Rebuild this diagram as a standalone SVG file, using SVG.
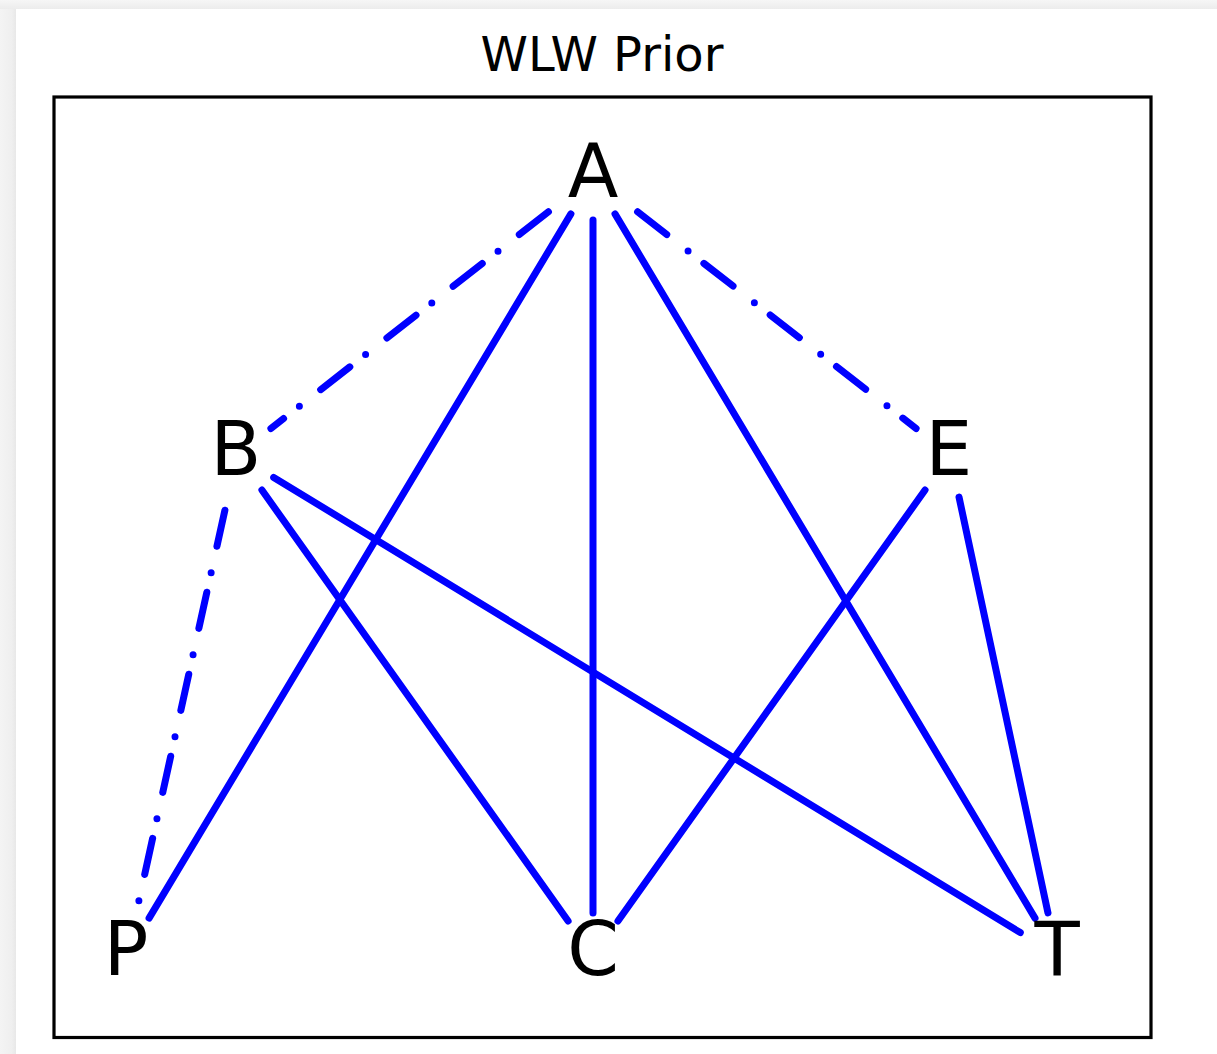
<svg xmlns="http://www.w3.org/2000/svg" width="1217" height="1054" viewBox="0 0 1217 1054">
  <defs>
    <linearGradient id="shL" x1="0" y1="0" x2="1" y2="0">
      <stop offset="0" stop-color="#f4f4f4"/>
      <stop offset="0.7" stop-color="#efefef"/>
      <stop offset="1" stop-color="#e6e6e6"/>
    </linearGradient>
    <linearGradient id="shT" x1="0" y1="0" x2="0" y2="1">
      <stop offset="0" stop-color="#f6f6f6"/>
      <stop offset="1" stop-color="#ececec"/>
    </linearGradient>
  </defs>
  <style>
    .frame { fill: none; stroke: #000000; stroke-width: 3.2; }
    .title { font-family: "DejaVu Sans", "Liberation Sans", sans-serif; font-size: 48px; fill: #000000; }
    .lbl { font-family: "DejaVu Sans", "Liberation Sans", sans-serif; font-size: 74px; fill: #000000; text-anchor: middle; }
    .edge { stroke: #0000ff; stroke-width: 7; fill: none; stroke-linecap: round; }
    .dashdot { stroke-dasharray: 37 27 0 20; stroke-dashoffset: 70.5; }
  </style>
  <rect x="0" y="0" width="1217" height="1054" fill="#f3f3f3"/>
  <rect x="0" y="0" width="17" height="1054" fill="url(#shL)"/>
  <rect x="0" y="0" width="1217" height="9" fill="url(#shT)"/>
  <rect x="16" y="9" width="1201" height="1045" fill="#ffffff"/>

  <rect class="frame" x="54" y="97" width="1097" height="940.5"/>
  <text class="title" x="602" y="71" text-anchor="middle">WLW Prior</text>

  <g id="edges">
    <line class="edge dashdot" x1="559.1" y1="203.5" x2="270.9" y2="428.5"/>
    <line class="edge dashdot" x1="626.9" y1="203.5" x2="916.1" y2="428.5"/>
    <line class="edge dashdot" x1="227.8" y1="497.0" x2="136.2" y2="913.0"/>
    <line class="edge" x1="570.9" y1="213.9" x2="149.1" y2="918.1"/>
    <line class="edge" x1="593" y1="220" x2="593" y2="913"/>
    <line class="edge" x1="615" y1="213.9" x2="1035" y2="918.1"/>
    <line class="edge" x1="261.9" y1="490.05" x2="568.1" y2="920.95"/>
    <line class="edge" x1="273.7" y1="477.4" x2="1020.3" y2="932.6"/>
    <line class="edge" x1="925.05" y1="490.0" x2="617.95" y2="921.0"/>
    <line class="edge" x1="959" y1="497.05" x2="1048" y2="912.95"/>
  </g>

  <g id="node-A"><text class="lbl" x="593" y="197">A</text></g>
  <g id="node-B"><text class="lbl" x="236" y="475">B</text></g>
  <g id="node-E"><text class="lbl" x="949" y="475">E</text></g>
  <g id="node-P"><text class="lbl" x="126" y="975">P</text></g>
  <g id="node-C"><text class="lbl" x="593" y="975">C</text></g>
  <g id="node-T"><text class="lbl" x="1057" y="975">T</text></g>
</svg>
